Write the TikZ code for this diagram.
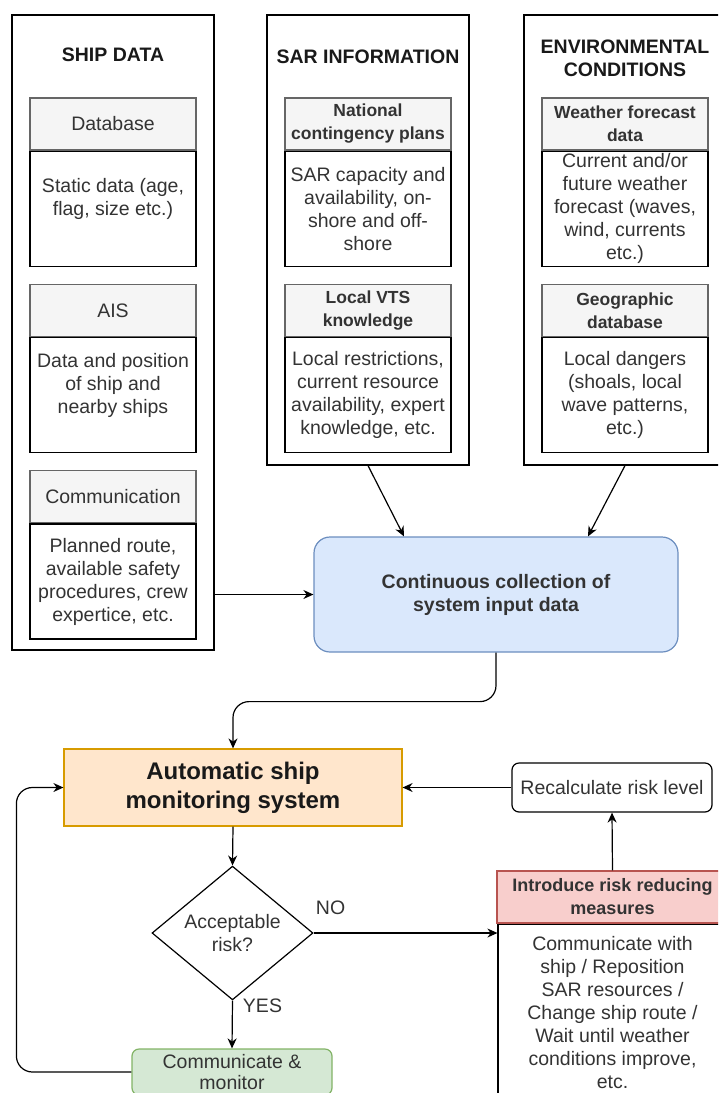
\documentclass[tikz,border=0pt]{standalone}
\usepackage{fontspec}
\setmainfont{Liberation Sans}
\usetikzlibrary{positioning, arrows.meta, shapes.geometric, calc}

\definecolor{hdfill}{HTML}{F5F5F5}
\definecolor{hdline}{HTML}{666666}
\definecolor{hdtext}{HTML}{333333}
\definecolor{collfill}{HTML}{DAE8FC}
\definecolor{collline}{HTML}{6C8EBF}
\definecolor{monfill}{HTML}{FFE6CC}
\definecolor{monline}{HTML}{D79B00}
\definecolor{redfill}{HTML}{F8CECC}
\definecolor{redline}{HTML}{B85450}
\definecolor{grnfill}{HTML}{D5E8D4}
\definecolor{grnline}{HTML}{82B366}

\begin{document}
\begin{tikzpicture}[x=1pt,y=-1pt,line width=1.2pt,
    every node/.style={font=\fontsize{19.5}{23}\selectfont, align=center, text=hdtext, inner sep=0pt},
    group/.style={draw, minimum width=202pt},
    title/.style={font=\fontsize{19.5}{23}\selectfont\bfseries, text=black!90},
    head/.style={draw=hdline, fill=hdfill, minimum width=166pt, minimum height=52pt},
    boldhead/.style={head, font=\fontsize{17.5}{23}\selectfont\bfseries},
    body/.style={draw, minimum width=166pt, minimum height=115pt},
    flow/.style={-{Stealth[length=10pt,width=9pt]}}]
    \useasboundingbox (0,0) rectangle (718,1093);
    \clip (0,0) rectangle (718,1093);

    % input groups
    \node[group, minimum height=635pt] (ship) at (113,332.5) {};
    \node[title] at ([yshift=-40pt]ship.north) {SHIP DATA};
    \node[head, below=83pt of ship.north] (dbhead) {Database};
    \node[body, below=0pt of dbhead] (dbbody) {Static data (age,\\ flag, size etc.)\\ \mbox{}};
    \node[head, below=17pt of dbbody] (aishead) {AIS};
    \node[body, below=0pt of aishead] (aisbody) {Data and position\\ of ship and\\ nearby ships\\ \mbox{}};
    \node[head, below=17pt of aisbody] (comhead) {Communication};
    \node[body, below=0pt of comhead] (combody) {Planned route,\\ available safety\\ procedures, crew\\ expertice, etc.};

    \node[group, minimum height=450pt] (sar) at (368,240) {};
    \node[title] at ([yshift=-42pt]sar.north) {SAR INFORMATION};
    \node[boldhead, below=83pt of sar.north] (nathead) {National\\ contingency plans};
    \node[body, below=0pt of nathead] (natbody) {SAR capacity and\\ availability, on-\\ shore and off-\\ shore};
    \node[boldhead, below=17pt of natbody] (vtshead) {Local VTS\\ knowledge};
    \node[body, below=0pt of vtshead] (vtsbody) {Local restrictions,\\ current resource\\ availability, expert\\ knowledge, etc.};

    \node[group, minimum height=450pt] (env) at (625,240) {};
    \node[title] at ([yshift=-44pt]env.north) {ENVIRONMENTAL\\ CONDITIONS};
    \node[boldhead, below=83pt of env.north] (wxhead) {Weather forecast\\ data};
    \node[body, below=0pt of wxhead] (wxbody) {Current and/or\\ future weather\\ forecast (waves,\\ wind, currents\\ etc.)};
    \node[boldhead, below=17pt of wxbody] (geohead) {Geographic\\ database};
    \node[body, below=0pt of geohead] (geobody) {Local dangers\\ (shoals, local\\ wave patterns,\\ etc.)};

    % process
    \node[draw=collline, fill=collfill, rounded corners=16pt, minimum width=364pt, minimum height=115pt,
          font=\fontsize{19.5}{23}\selectfont\bfseries] (coll) at (496,594.5) {Continuous collection of\\ system input data};
    \node[draw=monline, fill=monfill, minimum width=338pt, minimum height=77pt, text=black!90,
          font=\fontsize{24}{29}\selectfont\bfseries] (mon) at (233,787.5) {Automatic ship\\ monitoring system};
    \node[draw, rounded corners=7pt, minimum width=200pt, minimum height=49pt] (recalc) at (612,787.5) {Recalculate risk level};
    \node[draw, diamond, minimum width=161pt, minimum height=130pt] (risk) at (232.5,933) {Acceptable\\ risk?};
    \node[draw=grnline, fill=grnfill, rounded corners=7pt, minimum width=200pt, minimum height=46pt,
          font=\fontsize{19.5}{21}\selectfont] (comm) at (232,1072) {Communicate \&\\ monitor};
    \node[draw=redline, fill=redfill, minimum width=231pt, minimum height=52pt,
          font=\fontsize{18}{23}\selectfont\bfseries] (intro) at (612.5,897) {Introduce risk reducing\\ measures};
    \node[draw, minimum width=229pt, minimum height=176pt, below=0pt of intro] (introbody) {Communicate with\\ ship / Reposition\\ SAR resources /\\ Change ship route /\\ Wait until weather\\ conditions improve,\\ etc.};

    \node at ([xshift=17pt,yshift=25pt]risk.east) {NO};
    \node at ([xshift=30pt,yshift=-5pt]risk.south) {YES};

    \draw[flow] (sar.south) -- ([xshift=-92pt]coll.north);
    \draw[flow] (env.south) -- ([xshift=92pt]coll.north);
    \draw[flow] (coll.west -| ship.east) -- (coll.west);
    \draw[flow, rounded corners=16pt] (coll.south) -- ++(0,49) -| (mon.north);
    \draw[flow] (mon.south) -- (risk.north);
    \draw[flow] (risk.east) -- (risk.east -| introbody.west);
    \draw[flow] (risk.south) -- (comm.north);
    \draw[flow, rounded corners=16pt] (comm.west) -- ++(-115,0) |- (mon.west);
    \draw[flow] (intro.north) -- (recalc.south);
    \draw[flow] (recalc.west) -- (mon.east);
\end{tikzpicture}
\end{document}
